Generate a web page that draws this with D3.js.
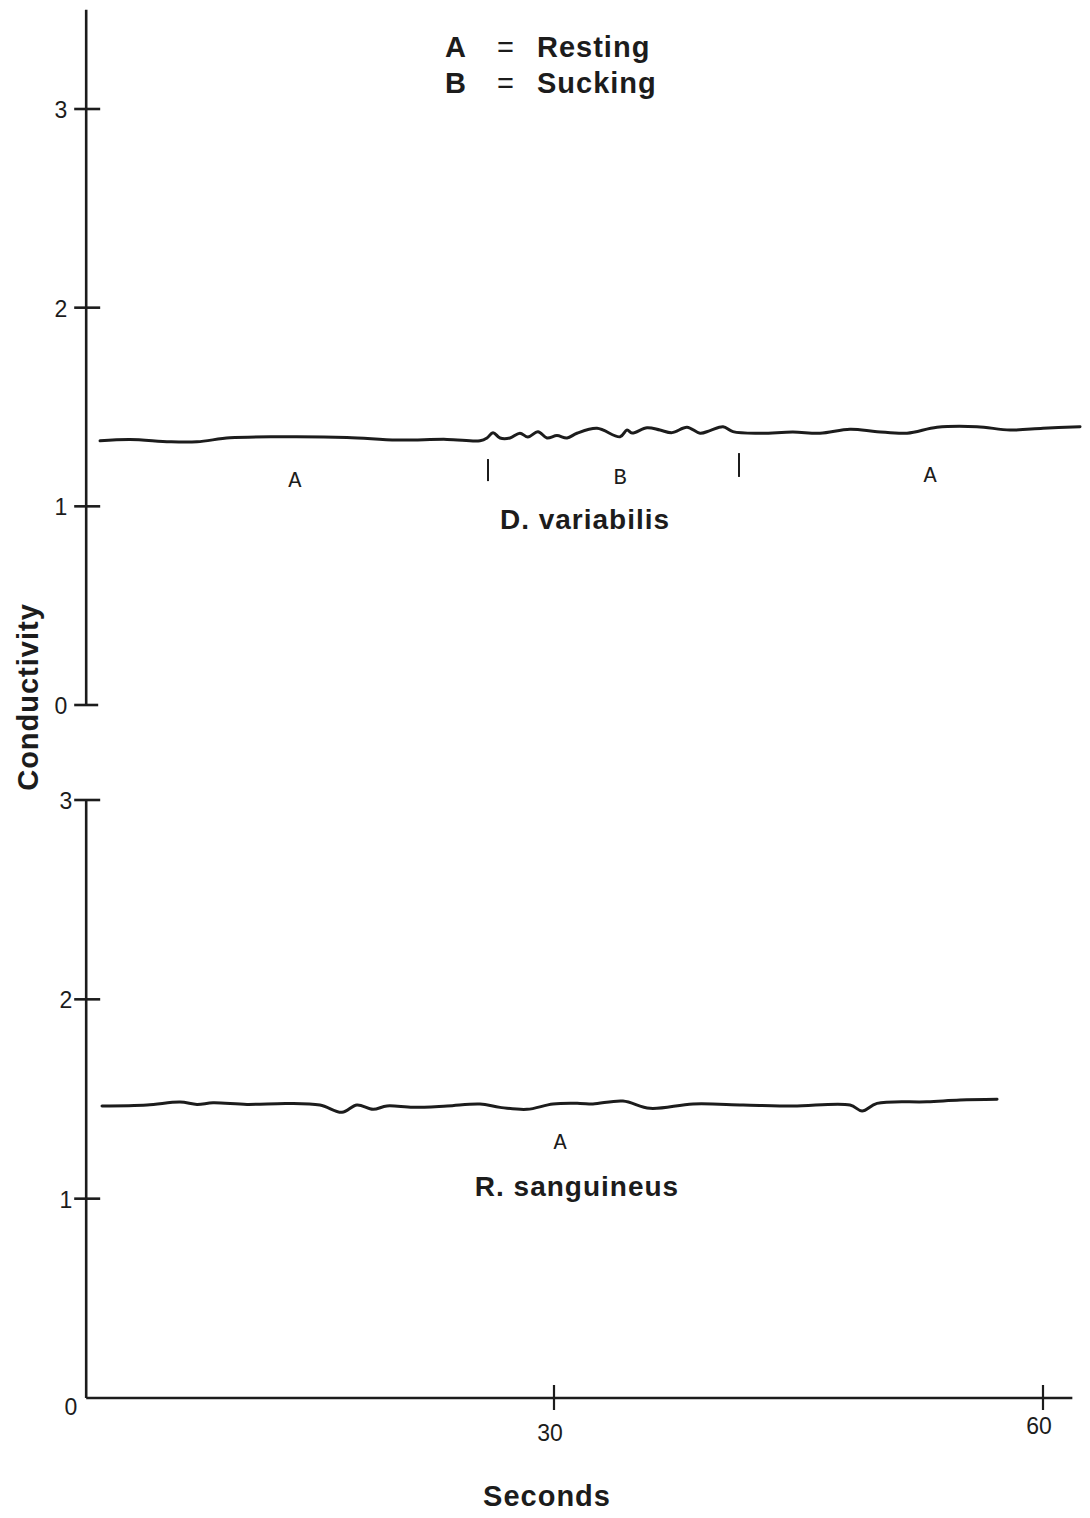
<!DOCTYPE html>
<html>
<head>
<meta charset="utf-8">
<script src="https://cdn.jsdelivr.net/npm/d3@7"></script>
<style>
  html, body { margin: 0; padding: 0; background: #fff; }
  svg { display: block; }
</style>
</head>
<body>
<svg id="chart" width="1090" height="1518"></svg>
<script>
// ---------------- DATA ----------------
// Top trace: D. variabilis  (seconds, conductivity)
const dvTime = [2.15, 3.99, 6.44, 8.10, 10.12, 13.19, 17.30, 20.37, 23.44, 25.46, 25.89, 26.26, 26.69, 27.30, 27.91, 28.40, 29.02, 29.57, 30.18, 30.80, 31.41, 32.64, 34.05, 34.48, 34.79, 35.71, 36.50, 37.24, 38.16, 38.96, 39.57, 40.37, 40.98, 42.64, 44.66, 46.32, 48.16, 49.82, 51.66, 53.50, 55.95, 57.98, 60.00, 62.27];
const dvValue = [1.330, 1.337, 1.325, 1.325, 1.345, 1.350, 1.347, 1.334, 1.337, 1.330, 1.344, 1.371, 1.344, 1.344, 1.368, 1.349, 1.376, 1.344, 1.356, 1.344, 1.368, 1.393, 1.350, 1.384, 1.369, 1.396, 1.384, 1.371, 1.398, 1.368, 1.381, 1.401, 1.376, 1.368, 1.374, 1.368, 1.388, 1.376, 1.368, 1.398, 1.401, 1.384, 1.393, 1.401];

// Bottom trace: R. sanguineus
const rsTime = [2.27, 5.03, 7.06, 8.10, 9.08, 11.17, 13.62, 15.64, 16.99, 17.91, 18.90, 19.75, 21.35, 23.44, 25.46, 26.69, 28.34, 29.94, 31.60, 32.39, 34.23, 35.89, 38.53, 41.60, 44.66, 48.16, 48.90, 49.82, 52.88, 54.91, 57.18];
const rsValue = [1.465, 1.470, 1.485, 1.473, 1.481, 1.473, 1.478, 1.470, 1.433, 1.470, 1.448, 1.465, 1.458, 1.465, 1.475, 1.458, 1.448, 1.475, 1.478, 1.475, 1.490, 1.453, 1.475, 1.470, 1.465, 1.470, 1.440, 1.478, 1.486, 1.495, 1.499];

// Phase boundary markers (top panel) : time, low value, high value
const boundaryTime = [25.95, 41.35];
const boundaryLow  = [1.127, 1.148];
const boundaryHigh = [1.238, 1.268];

// Phase labels
const dvPhaseLabels = ["A", "B", "A"];
const dvPhaseTime   = [14.1, 34.05, 53.07];
const dvPhaseValue  = [1.138, 1.153, 1.163];
const rsPhaseLabels = ["A"];
const rsPhaseTime   = [30.37];
const rsPhaseValue  = [1.289];

// Axes
const yTicks = [0, 1, 2, 3];
const xTicks = [30, 60];
const xAxisStart = 1.3, xAxisEnd = 61.8;
const topAxisMax = 3.5;

const legendKeys = ["A", "B"];
const legendNames = ["Resting", "Sucking"];
const speciesNames = ["D. variabilis", "R. sanguineus"];

// ---------------- DRAW ----------------
const svg = d3.select("#chart");
const ink = "#1c1c1c";
const sans = "Liberation Sans, Arial, Helvetica, sans-serif";

const x = d3.scaleLinear().domain([0, 60]).range([65, 1043]);
const yTop = d3.scaleLinear().domain([0, 3]).range([705, 109]);
const yBot = d3.scaleLinear().domain([0, 3]).range([1398, 800]);
const x0 = x(xAxisStart);

// Y axes
function yAxis(scale, isBottom, topVal) {
  const g = svg.append("g").attr("transform", `translate(${x0},0)`);
  g.append("line")
    .attr("x1", 0).attr("x2", 0)
    .attr("y1", scale(0)).attr("y2", scale(topVal))
    .attr("stroke", ink).attr("stroke-width", 2.6);
  const ticks = isBottom ? yTicks.filter(d => d !== 0) : yTicks;
  g.selectAll("line.tk").data(ticks).join("line").attr("class", "tk")
    .attr("x1", -12).attr("x2", d => d === 0 ? 12 : 14)
    .attr("y1", d => scale(d)).attr("y2", d => scale(d))
    .attr("stroke", ink).attr("stroke-width", 2.6);
  g.selectAll("text").data(yTicks).join("text")
    .attr("x", d => (isBottom && d === 0) ? -9 : (isBottom ? -14 : -19))
    .attr("y", d => scale(d) + ((isBottom && d === 0) ? 9 : 1))
    .attr("dy", "0.35em")
    .attr("text-anchor", "end")
    .attr("font-family", sans)
    .attr("font-size", 23)
    .attr("fill", ink)
    .text(d => d);
}
yAxis(yTop, false, topAxisMax);
yAxis(yBot, true, 3);

// X axis
const gx = svg.append("g");
gx.append("line")
  .attr("x1", x0).attr("x2", x(xAxisEnd))
  .attr("y1", yBot(0)).attr("y2", yBot(0))
  .attr("stroke", ink).attr("stroke-width", 2.6);
gx.selectAll("line.tk").data(xTicks).join("line").attr("class", "tk")
  .attr("x1", d => x(d)).attr("x2", d => x(d))
  .attr("y1", yBot(0) - 13).attr("y2", yBot(0) + 12)
  .attr("stroke", ink).attr("stroke-width", 2.2);
gx.selectAll("text").data(xTicks).join("text")
  .attr("x", d => x(d) - 4)
  .attr("y", (d, i) => yBot(0) + (i === 0 ? 43 : 36))
  .attr("text-anchor", "middle")
  .attr("font-family", sans)
  .attr("font-size", 23)
  .attr("fill", ink)
  .text(d => d);

// Traces
const line = (ys) => d3.line().x(d => x(d[0])).y(d => ys(d[1])).curve(d3.curveCatmullRom.alpha(0.5));
svg.append("path")
  .datum(dvTime.map((t, i) => [t, dvValue[i]]))
  .attr("d", line(yTop))
  .attr("fill", "none").attr("stroke", ink).attr("stroke-width", 3)
  .attr("stroke-linejoin", "round").attr("stroke-linecap", "round");
svg.append("path")
  .datum(rsTime.map((t, i) => [t, rsValue[i]]))
  .attr("d", line(yBot))
  .attr("fill", "none").attr("stroke", ink).attr("stroke-width", 3)
  .attr("stroke-linejoin", "round").attr("stroke-linecap", "round");

// Phase boundaries
svg.selectAll("line.bd").data(boundaryTime).join("line").attr("class", "bd")
  .attr("x1", d => x(d)).attr("x2", d => x(d))
  .attr("y1", (d, i) => yTop(boundaryLow[i]))
  .attr("y2", (d, i) => yTop(boundaryHigh[i]))
  .attr("stroke", ink).attr("stroke-width", 2);

// Phase labels
function phaseLabels(labels, times, vals, ys) {
  svg.append("g").selectAll("text").data(labels).join("text")
    .attr("x", (d, i) => x(times[i]))
    .attr("y", (d, i) => ys(vals[i]))
    .attr("dy", "0.35em")
    .attr("text-anchor", "middle")
    .attr("font-family", "Liberation Mono, Courier New, monospace")
    .attr("font-size", 22)
    .attr("fill", ink)
    .text(d => d);
}
phaseLabels(dvPhaseLabels, dvPhaseTime, dvPhaseValue, yTop);
phaseLabels(rsPhaseLabels, rsPhaseTime, rsPhaseValue, yBot);

// Species names
svg.append("text").attr("x", 585).attr("y", 529)
  .attr("text-anchor", "middle").attr("font-family", sans)
  .attr("font-size", 28).attr("font-weight", "bold").attr("letter-spacing", 1)
  .attr("fill", ink).text(speciesNames[0]);
svg.append("text").attr("x", 577).attr("y", 1196)
  .attr("text-anchor", "middle").attr("font-family", sans)
  .attr("font-size", 28).attr("font-weight", "bold").attr("letter-spacing", 1)
  .attr("fill", ink).text(speciesNames[1]);

// Legend
const lg = svg.append("g").attr("font-family", sans).attr("font-size", 29)
  .attr("font-weight", "bold").attr("fill", ink);
legendKeys.forEach((k, i) => {
  const by = 57 + i * 36;
  lg.append("text").attr("x", 445).attr("y", by).text(k);
  lg.append("text").attr("x", 497).attr("y", by).attr("font-weight", "normal").text("=");
  lg.append("text").attr("x", 537).attr("y", by).attr("letter-spacing", 1).text(legendNames[i]);
});

// Axis titles
svg.append("text")
  .attr("transform", "translate(38,697) rotate(-90)")
  .attr("text-anchor", "middle").attr("font-family", sans)
  .attr("font-size", 29).attr("font-weight", "bold").attr("letter-spacing", 1)
  .attr("fill", ink).text("Conductivity");
svg.append("text")
  .attr("x", 547).attr("y", 1506)
  .attr("text-anchor", "middle").attr("font-family", sans)
  .attr("font-size", 29).attr("font-weight", "bold").attr("letter-spacing", 1)
  .attr("fill", ink).text("Seconds");
</script>
</body>
</html>
